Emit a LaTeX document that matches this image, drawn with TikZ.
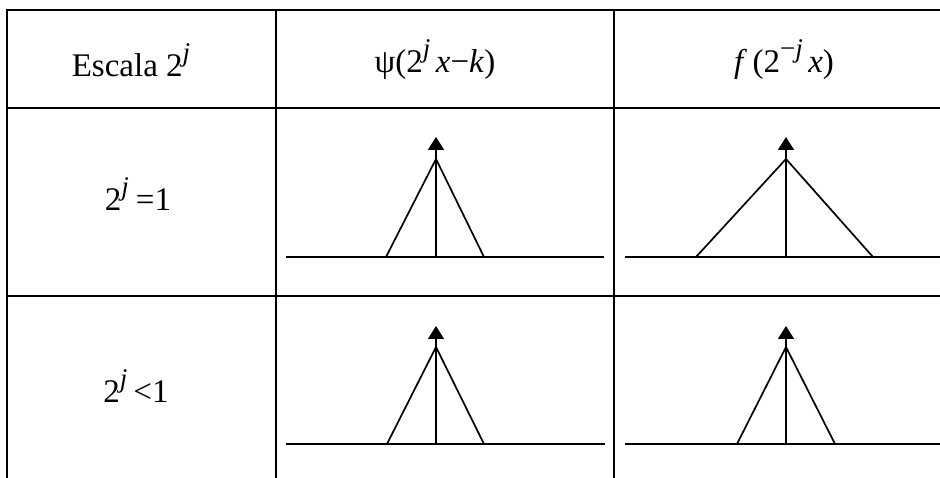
\documentclass[tikz,border=0pt]{standalone}
\usepackage{fontspec}
\setmainfont{Liberation Serif}
\usetikzlibrary{arrows.meta}
\newcommand\mysup[1]{\raisebox{15pt}{\fontsize{27}{27}\selectfont #1}}
\begin{document}
\begin{tikzpicture}[x=1pt,y=-1pt,
  grid/.style={line width=2pt},
  curve/.style={line width=1.7pt, line join=miter},
  spike/.style={line width=1.7pt, -{Triangle[width=16pt,length=13pt]}},
  lbl/.style={font=\fontsize{33}{40}\selectfont, inner sep=0pt, anchor=base}]
\useasboundingbox (0,0) rectangle (940,478);
% table
\coordinate (tl) at (7,10);
\coordinate (tr) at (940,10);
\draw[grid] (7,478) -- (tl) -- (tr);
\draw[grid] (7,108) -- (940,108);
\draw[grid] (7,296) -- (940,296);
\draw[grid] (276,10) -- (276,478);
\draw[grid] (614,10) -- (614,478);
% header texts
\node[lbl] (h1) at (131,77) {Escala 2\mysup{\textit{j}}};
\node[lbl] (h2) at (435,73) {ψ(2\mysup{\textit{j}}\,\textit{x}−\textit{k})};
\node[lbl] (h3) at (784,73) {\textit{f}\,(2\mysup{−\textit{j}}\,\textit{x})};
\node[lbl] (r1) at (138,211) {2\mysup{\textit{j}}\hspace{7pt}=1};
\node[lbl] (r2) at (136,402) {2\mysup{\textit{j}}\hspace{6pt}<1};
% row 1, column 2
\coordinate (a1s) at (286,257); \coordinate (a1e) at (604,257);
\draw[curve] (a1s) -- (a1e);
\coordinate (p1l) at (386,257); \coordinate (p1t) at (436,159); \coordinate (p1r) at (484,257);
\draw[curve] (p1l) -- (p1t) -- (p1r);
\coordinate (s1b) at (436,257); \coordinate (s1t) at (436,137);
\draw[spike] (s1b) -- (s1t);
% row 1, column 3
\coordinate (b1s) at (625,257); \coordinate (b1e) at (940,257);
\draw[curve] (b1s) -- (b1e);
\coordinate (q1l) at (696,257); \coordinate (q1t) at (786,159); \coordinate (q1r) at (873,257);
\draw[curve] (q1l) -- (q1t) -- (q1r);
\coordinate (t1b) at (786,257); \coordinate (t1t) at (786,137);
\draw[spike] (t1b) -- (t1t);
% row 2, column 2
\coordinate (a2s) at (286,444); \coordinate (a2e) at (605,444);
\draw[curve] (a2s) -- (a2e);
\coordinate (p2l) at (387,444); \coordinate (p2t) at (436,347); \coordinate (p2r) at (484,444);
\draw[curve] (p2l) -- (p2t) -- (p2r);
\coordinate (s2b) at (436,444); \coordinate (s2t) at (436,326);
\draw[spike] (s2b) -- (s2t);
% row 2, column 3
\coordinate (b2s) at (625,444); \coordinate (b2e) at (940,444);
\draw[curve] (b2s) -- (b2e);
\coordinate (q2l) at (737,444); \coordinate (q2t) at (786,347); \coordinate (q2r) at (835,444);
\draw[curve] (q2l) -- (q2t) -- (q2r);
\coordinate (t2b) at (786,444); \coordinate (t2t) at (786,326);
\draw[spike] (t2b) -- (t2t);
\end{tikzpicture}
\end{document}
